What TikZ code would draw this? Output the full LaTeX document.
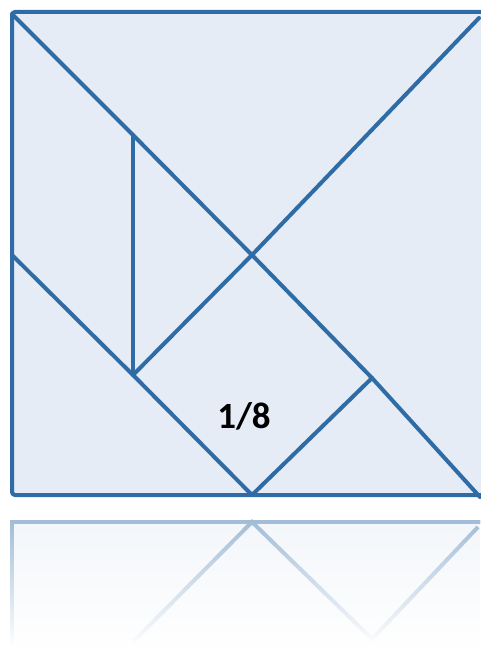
\documentclass[tikz,border=0pt]{standalone}
\usepackage{fontspec}
\setmainfont{Carlito}
\usetikzlibrary{fadings}
\definecolor{lineblue}{HTML}{2F6BA5}
\definecolor{fillblue}{HTML}{E5ECF5}
\tikzfading[name=reflfade, top color=transparent!45, bottom color=transparent!0]
\tikzset{
  piece/.style={draw=lineblue, line width=4pt, line cap=round, line join=round},
  reflpiece/.style={draw=lineblue, line width=4pt}
}
\begin{document}
\begin{tikzpicture}[x=1pt,y=-1pt]
\useasboundingbox (0,0) rectangle (480,647);
% reflection
\begin{scope}
\clip (0,519) rectangle (480,647);
\fill[fillblue] (12,522) rectangle (480,660);
\draw[reflpiece] (12,660) -- (12,522) -- (482,522);
\draw[reflpiece] (133,642) -- (252,522) -- (372,639) -- (478,527);
\fill[white, path fading=reflfade] (0,519) rectangle (480,647);
\end{scope}
% main square
\fill[fillblue, rounded corners=3pt] (12,12) rectangle (484,496);
\coordinate (TL) at (12,14);
\coordinate (TR) at (479,18);
\coordinate (C) at (252,255);
\coordinate (P) at (133,135);
\coordinate (Q) at (133,375);
\coordinate (R) at (372,378);
\coordinate (B) at (252,495);
\coordinate (BR) at (480,497);
\coordinate (L) at (12,255);
\draw[piece, rounded corners=3pt] (484,12) -- (12,12) -- (12,495) -- (484,495);
\draw[piece] (TL) -- (P) -- (C) -- (R) -- (BR);
\draw[piece] (TR) -- (C) -- (Q) -- (B) -- (R);
\draw[piece] (P) -- (Q);
\draw[piece] (L) -- (Q);
\node[font=\bfseries\fontsize{37}{40}\selectfont] (lbl) at (244,416) {1/8};
\end{tikzpicture}
\end{document}
